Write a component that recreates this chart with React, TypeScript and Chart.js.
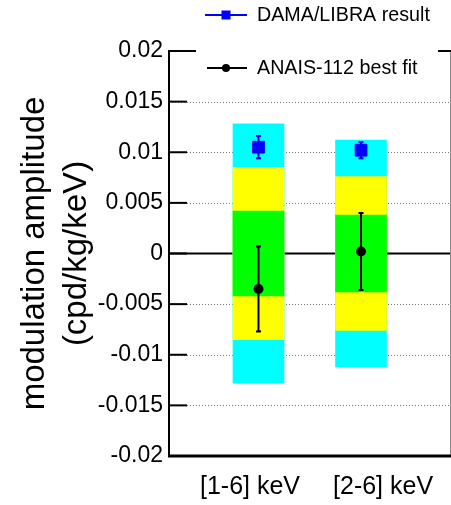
import { useEffect, useRef } from 'react';
import { Chart, registerables } from 'chart.js';

Chart.register(...registerables);

// ---------- data ----------
const categories = ['[1-6] keV', '[2-6] keV'];
const anaisBestFit = [-0.0035, 0.0002];
const anaisError = [0.0042, 0.0038];
const damaResult = [0.0105, 0.0102];
const damaError = [0.0011, 0.0008];
const band1Sigma = [0.0042, 0.0038];
const band2Sigma = [0.0085, 0.0076];
const band3Sigma = [0.0128, 0.0112];
const yTicks = [-0.02, -0.015, -0.01, -0.005, 0, 0.005, 0.01, 0.015, 0.02];
const legendLabels = ['DAMA/LIBRA result', 'ANAIS-112 best fit'];
const yTitle = ['modulation amplitude', '(cpd/kg/keV)'];

// ---------- layout / style ----------
const FONT = "'Liberation Sans', Arial, Helvetica, sans-serif";
const labelShift = [-0.083, 0.215];
const CYAN = '#00ffff';
const YELLOW = '#ffff00';
const GREEN = '#00ff00';
const BLUE = '#0000ff';

const pos = (i: number) => i + 1;

const band = (half: number[]) => half.map((h, i) => ({ x: pos(i), y: [-h, h] }));

const errorSegments = (center: number[], err: number[]) => {
  const out: any[] = [];
  center.forEach((c, i) => {
    if (i > 0) out.push({ x: pos(i) - 0.5, y: null });
    out.push({ x: pos(i), y: c - err[i] });
    out.push({ x: pos(i), y: c + err[i] });
  });
  return out;
};

const framePlugin = {
  id: 'rootFrame',
  beforeDatasetsDraw(chart: any) {
    const { ctx, chartArea: a, scales } = chart;
    const y = scales.y;
    ctx.save();
    ctx.strokeStyle = '#777';
    ctx.lineWidth = 1;
    ctx.setLineDash([1, 2]);
    for (const t of y.ticks) {
      if (t.value === 0 || Math.abs(Math.abs(t.value) - 0.02) < 1e-9) continue;
      const py = Math.round(y.getPixelForValue(t.value)) + 0.5;
      ctx.beginPath();
      ctx.moveTo(a.left, py);
      ctx.lineTo(a.right, py);
      ctx.stroke();
    }
    ctx.setLineDash([]);
    ctx.strokeStyle = '#000';
    ctx.lineWidth = 2;
    const z = y.getPixelForValue(0);
    ctx.beginPath();
    ctx.moveTo(a.left, z);
    ctx.lineTo(a.right, z);
    ctx.stroke();
    ctx.restore();
  },
  afterDatasetsDraw(chart: any) {
    const { ctx, chartArea: a, scales } = chart;
    const y = scales.y;
    ctx.save();
    // right border (thin gray)
    ctx.strokeStyle = '#888';
    ctx.lineWidth = 1;
    ctx.beginPath();
    ctx.moveTo(a.right + 0.5, a.top);
    ctx.lineTo(a.right + 0.5, a.bottom);
    ctx.stroke();
    // top border
    ctx.strokeStyle = '#000';
    ctx.lineWidth = 2;
    ctx.beginPath();
    ctx.moveTo(a.left, a.top);
    ctx.lineTo(a.right + 1, a.top);
    ctx.stroke();
    // y ticks inside
    for (const t of y.ticks) {
      const py = y.getPixelForValue(t.value);
      ctx.beginPath();
      ctx.moveTo(a.left, py);
      ctx.lineTo(a.left + 18, py);
      ctx.stroke();
    }
    // left axis
    ctx.beginPath();
    ctx.moveTo(a.left, a.top - 1);
    ctx.lineTo(a.left, a.bottom + 1);
    ctx.stroke();
    // bottom axis
    ctx.lineWidth = 3;
    ctx.beginPath();
    ctx.moveTo(a.left - 1, a.bottom);
    ctx.lineTo(a.right + 1, a.bottom);
    ctx.stroke();

    // legend
    const bx = a.left + 27;
    const bw = a.right - 12 - bx;
    ctx.fillStyle = '#fff';
    ctx.fillRect(bx, 0, bw, 90);
    const mx = bx + 30;
    const rows = [15, 68];
    // DAMA entry
    ctx.strokeStyle = BLUE;
    ctx.lineWidth = 2;
    ctx.beginPath();
    ctx.moveTo(mx - 21, rows[0]);
    ctx.lineTo(mx + 21, rows[0]);
    ctx.stroke();
    ctx.fillStyle = BLUE;
    ctx.fillRect(mx - 4.5, rows[0] - 4.5, 9, 9);
    // ANAIS entry
    ctx.strokeStyle = '#000';
    ctx.beginPath();
    ctx.moveTo(mx - 19, rows[1]);
    ctx.lineTo(mx + 21, rows[1]);
    ctx.stroke();
    ctx.fillStyle = '#000';
    ctx.beginPath();
    ctx.arc(mx, rows[1], 4, 0, Math.PI * 2);
    ctx.fill();
    ctx.font = `19.7px ${FONT}`;
    ctx.textBaseline = 'middle';
    ctx.textAlign = 'left';
    ctx.fillText(legendLabels[0], mx + 31, rows[0] + 1);
    ctx.fillText(legendLabels[1], mx + 31, rows[1] + 1);
    ctx.restore();
  },
};

export default function App() {
  const ref = useRef<HTMLCanvasElement | null>(null);

  useEffect(() => {
    if (!ref.current) return;
    const chart = new Chart(ref.current, {
      type: 'bar',
      data: {
        datasets: [
          {
            type: 'line',
            label: legendLabels[0],
            data: damaResult.map((v, i) => ({ x: pos(i), y: v })),
            showLine: false,
            pointStyle: 'rect',
            pointRadius: 8.3,
            pointBackgroundColor: BLUE,
            pointBorderColor: BLUE,
            pointBorderWidth: 1,
            order: 1,
          } as any,
          {
            type: 'line',
            label: 'dama-err',
            data: errorSegments(damaResult, damaError),
            borderColor: BLUE,
            borderWidth: 2,
            spanGaps: false,
            pointStyle: 'line',
            pointRadius: 2.5,
            pointBorderColor: BLUE,
            pointBorderWidth: 2,
            order: 2,
          } as any,
          {
            type: 'line',
            label: legendLabels[1],
            data: anaisBestFit.map((v, i) => ({ x: pos(i), y: v })),
            showLine: false,
            pointStyle: 'circle',
            pointRadius: 5,
            pointBackgroundColor: '#000',
            pointBorderColor: '#000',
            pointBorderWidth: 0,
            order: 3,
          } as any,
          {
            type: 'line',
            label: 'anais-err',
            data: errorSegments(anaisBestFit, anaisError),
            borderColor: '#000',
            borderWidth: 2,
            spanGaps: false,
            pointStyle: 'line',
            pointRadius: 2.5,
            pointBorderColor: '#000',
            pointBorderWidth: 2,
            order: 4,
          } as any,
          {
            label: '1 sigma',
            data: band(band1Sigma),
            backgroundColor: GREEN,
            barThickness: 51,
            grouped: false,
            borderWidth: 0,
            order: 5,
          } as any,
          {
            label: '2 sigma',
            data: band(band2Sigma),
            backgroundColor: YELLOW,
            barThickness: 51,
            grouped: false,
            borderWidth: 0,
            order: 6,
          } as any,
          {
            label: '3 sigma',
            data: band(band3Sigma),
            backgroundColor: CYAN,
            barThickness: 51,
            grouped: false,
            borderWidth: 0,
            order: 7,
          } as any,
        ],
      },
      options: {
        animation: false,
        responsive: false,
        events: [],
        layout: { autoPadding: false, padding: { top: 51, right: 1, bottom: 0, left: 0 } },
        plugins: { legend: { display: false }, tooltip: { enabled: false } },
        scales: {
          x: {
            type: 'linear',
            offset: false,
            min: 0.127,
            max: 2.868,
            afterBuildTicks: (s: any) => {
              s.ticks = categories.map((_, i) => ({ value: pos(i) + labelShift[i] }));
            },
            ticks: {
              callback: (_v: any, i: number) => categories[i],
              font: { family: FONT, size: 25, lineHeight: '62px' },
              color: '#000',
              padding: 0,
              maxRotation: 0,
              minRotation: 0,
              autoSkip: false,
            },
            grid: { display: false, drawTicks: false, offset: false },
            border: { display: false },
            afterFit: (s: any) => {
              s.height = 49;
              s.paddingLeft = 0;
              s.paddingRight = 0;
            },
          },
          y: {
            type: 'linear',
            min: -0.02,
            max: 0.02,
            afterBuildTicks: (s: any) => {
              s.ticks = yTicks.map((v) => ({ value: v }));
            },
            ticks: {
              callback: (v: any) => String(Number(Number(v).toFixed(3))),
              font: { family: FONT, size: 23 },
              color: '#000',
              padding: 6,
              autoSkip: false,
            },
            grid: { display: false, drawTicks: false },
            border: { display: false },
            title: {
              display: true,
              text: yTitle,
              font: { family: FONT, size: 33, lineHeight: '42px' },
              color: '#000',
              padding: { top: 14, bottom: 0 },
            },
            afterFit: (s: any) => {
              s.width = 169;
            },
          },
        },
      } as any,
      plugins: [framePlugin],
    });
    return () => chart.destroy();
  }, []);

  return (
    <div style={{ position: 'fixed', left: 0, top: 0, width: 451, height: 505, background: '#fff' }}>
      <canvas ref={ref} width={451} height={505} style={{ width: 451, height: 505 }} />
    </div>
  );
}
